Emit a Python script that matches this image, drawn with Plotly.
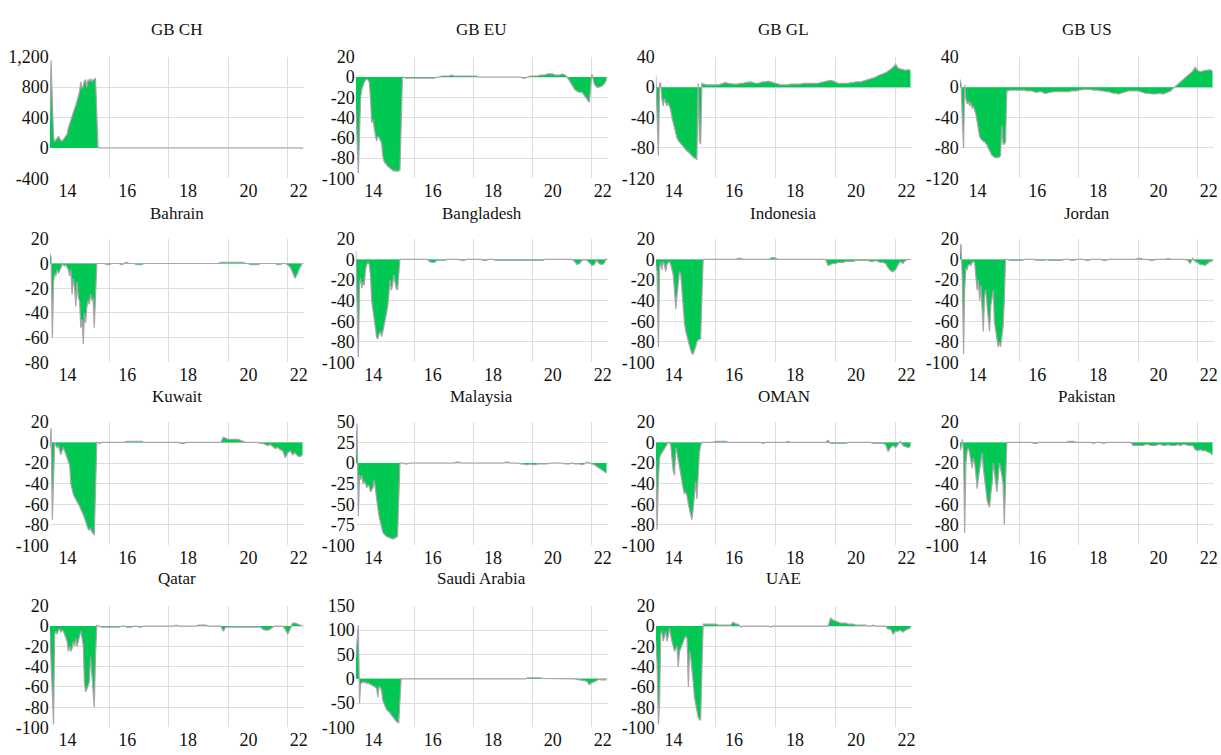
import plotly.graph_objects as go
import pandas as pd

# ---- observation dates: half-monthly to Aug 2015, monthly afterwards ----
early_dates = [pd.Timestamp(2014 + k // 24, (k % 24) // 2 + 1, 1 if k % 2 == 0 else 16) for k in range(40)]
late_dates = list(pd.date_range("2015-09-01", "2022-07-01", freq="MS"))
dates = early_dates + late_dates

# ---- series values (early half-monthly 40 values, then monthly 83 values) ----
gb_ch = [350, 1150, 600, 150, 80, 100, 120, 150, 130, 100,
         90, 110, 130, 150, 180, 260, 320, 380, 430, 470,
         520, 560, 620, 700, 740, 870, 780, 820, 880, 900,
         800, 900, 880, 910, 870, 900, 900, 920, 450, 0,
         0, 0, 0, 0,
         0, 0, 0, 0, 0, 0, 0, 0, 0, 0, 0, 0,
         0, 0, 0, 0, 0, 0, 0, 0, 0, 0, 0, 0,
         0, 0, 0, 0, 0, 0, 0, 0, 0, 0, 0, 0,
         0, 0, 0, 0, 0, 0, 0, 0, 0, 0, 0, 0,
         0, 0, 0, 0, 0, 0, 0, 0, 0, 0, 0, 0,
         0, 0, 0, 0, 0, 0, 0, 0, 0, 0, 0, 0,
         0, 0, 0, 0, 0, 0, -10]

gb_eu = [-30, -60, -95, -55, -20, -12, -8, -5, -3, -2,
         -3, -5, -20, -45, -42, -52, -58, -63, -58, -60,
         -62, -65, -78, -83, -85, -87, -88, -89, -90, -91,
         -92, -93, -92, -93, -93, -92, -92, -45, 0, 0,
         -1, -1, -1, -1,
         -1, -1, -1, -1, -1, -1, -1, -1, -1, 0, 0, 1,
         1, 1, 1, 2, 1, 1, 1, 1, 1, 1, 1, 1,
         1, 1, 0, 0, 0, 0, 0, 0, 0, 0, 0, 0,
         0, 0, 0, 0, 0, 0, 0, 0, -1, -1, 0, 1,
         1, 1, 1, 2, 2, 2, 3, 3, 3, 2, 2, 2,
         3, 2, 0, -4, -8, -12, -14, -15, -15, -18, -21, -25,
         3, -7, -10, -10, -9, -7, -3]

gb_gl = [15, -30, -90, 5, 5, -15, -25, -15, -20, -25,
         -20, -25, -30, -40, -48, -55, -62, -67, -70, -72,
         -75, -77, -78, -80, -82, -84, -85, -87, -89, -90,
         -92, -93, -94, -95, 5, -70, -75, 5, 4, 4,
         3, 3, 3, 3,
         3, 3, 4, 5, 6, 5, 4, 4, 4, 4, 5, 5,
         6, 7, 7, 6, 5, 5, 6, 7, 7, 8, 7, 6,
         4, 3, 3, 3, 3, 3, 4, 4, 4, 4, 4, 5,
         5, 5, 5, 5, 5, 5, 6, 7, 7, 8, 9, 8,
         6, 5, 5, 5, 5, 5, 6, 6, 7, 7, 7, 8,
         9, 10, 11, 12, 13, 15, 16, 17, 19, 21, 23, 26,
         30, 25, 24, 23, 22, 23, 22]

gb_us = [10, 5, -45, -80, 3, -15, -22, -18, -25, -20,
         -28, -25, -30, -35, -45, -55, -65, -68, -70, -71,
         -72, -74, -76, -80, -84, -87, -90, -91, -92, -93,
         -92, -93, -92, -90, -50, -75, -75, -72, -5, -5,
         -4, -4, -4, -4,
         -4, -4, -4, -5, -5, -5, -6, -7, -6, -6, -8, -8,
         -7, -6, -6, -6, -6, -6, -6, -6, -6, -5, -5, -5,
         -4, -3, -3, -3, -3, -3, -4, -4, -4, -5, -5, -6,
         -6, -7, -8, -8, -9, -8, -7, -6, -5, -5, -5, -5,
         -5, -6, -7, -8, -8, -9, -9, -9, -8, -8, -9, -8,
         -7, -5, -2, 1, 4, 7, 9, 12, 15, 18, 21, 26,
         22, 20, 21, 22, 22, 23, 21]

bahrain = [8, 5, -60, -15, -8, -10, -5, -8, -6, -3,
           -1, -1, -2, -1, -3, -5, -10, -5, -25, -12,
           -20, -35, -15, -28, -30, -52, -45, -65, -40, -48,
           -35, -30, -33, -25, -30, -28, -52, -25, 0, 0,
           0, 0, 0, -1,
           -1, 0, 0, 0, 0, -1, 0, 1, 0, 0, 0, -1,
           -1, -1, 0, 0, 0, 0, 0, 0, 0, 0, 0, 0,
           0, 0, 0, 0, 0, 0, 0, 0, 0, 0, 0, 0,
           0, 0, 0, 0, 0, 0, 0, 0, 0, 1, 1, 1,
           1, 1, 1, 1, 1, 1, 1, 0, 0, -1, -1, -1,
           -1, 0, 0, 0, 0, 0, 0, 0, -1, -1, 0, 0,
           -1, -3, -7, -12, -8, -3, 0]

bangladesh = [8, -35, -95, -25, -18, -28, -22, -25, -10, -5,
              -3, -5, -15, -40, -50, -62, -72, -76, -77, -72,
              -70, -75, -70, -65, -58, -52, -45, -30, -20, -30,
              -25, -15, -20, -28, -30, -15, 0, 0, 0, 0,
              0, 0, 0, 0,
              0, 0, 0, 0, 0, 0, -2, -3, -3, -1, -1, -1,
              -1, 0, 0, 0, 0, 0, 0, -1, -1, 0, 0, 0,
              0, 0, 0, 0, -1, -1, 0, 0, 0, -1, -1, -1,
              -1, -1, -1, -1, -1, -1, -1, -1, -1, -1, -1, -1,
              -1, -1, -1, -1, -1, 0, 0, 0, 0, 0, 0, 0,
              0, 0, 0, 0, 0, -2, -5, -4, -1, 0, -1, -3,
              -6, -5, -1, -4, -5, -4, 1]

indonesia = [-5, -12, -85, -8, -3, -10, -2, -5, -12, -5,
             -3, -2, -5, -10, -15, -30, -48, -35, -25, -12,
             -15, -30, -50, -62, -70, -75, -80, -85, -88, -91,
             -92, -88, -85, -80, -78, -78, -77, -38, 0, 0,
             0, 0, 0, 0,
             0, 0, 0, 0, 0, 0, 0, 0, 0, 1, 1, 0,
             0, 0, 0, 0, 0, 0, 0, 0, 0, 0, 1, 2,
             1, 0, 0, 0, 0, 0, 0, 0, 0, 0, 0, 0,
             0, 0, 0, 0, 0, 0, 0, 0, 0, -6, -5, -4,
             -4, -3, -3, -3, -2, -2, -2, -2, -1, -1, -1, -1,
             -1, -1, -2, -2, -1, -2, -3, -3, -4, -8, -11, -12,
             -10, -5, -2, -4, -1, 0, 0]

jordan = [5, 15, -20, -92, -30, -8, -10, -5, -5, -6,
          -3, -2, -3, -15, -30, -20, -40, -25, -55, -70,
          -35, -30, -45, -55, -70, -45, -35, -30, -60, -70,
          -75, -85, -80, -85, -75, -65, -40, 0, 0, 0,
          -1, -1, -1, -1,
          -1, -1, 0, 0, 0, 0, 0, -1, -1, -1, -1, 0,
          -1, -1, -1, -1, -1, -1, 0, 0, 0, -1, -1, 0,
          0, 0, 0, -1, -1, 0, 0, 0, 0, 0, -1, -1,
          0, 0, 0, 0, 0, 0, 0, 0, 0, 0, 0, 0,
          1, 1, 0, 0, 0, -1, -1, 0, 0, 0, 0, 0,
          1, 0, 0, 0, 0, 0, 0, 0, -1, -4, 1, -2,
          -3, -5, -5, -6, -4, -2, -2]

kuwait = [-5, 14, -75, -40, 0, -3, -5, -3, -8, -12,
          -8, -5, -8, -12, -15, -18, -22, -40, -47, -50,
          -53, -55, -58, -60, -62, -65, -67, -70, -73, -76,
          -80, -84, -85, -83, -87, -88, -90, -45, 0, 0,
          -1, 0, 0, 0,
          0, 0, 0, 0, 0, 0, 0, 1, 1, 1, 1, 1,
          1, 1, 0, 0, 0, 0, 0, 0, 0, 0, 0, 0,
          0, 0, 0, 0, 0, -1, -1, 0, 0, 0, 0, 0,
          0, 0, 0, 0, 0, 0, 0, 0, 0, 0, 5, 4,
          3, 3, 3, 3, 3, 2, 1, 0, 0, 0, 0, 0,
          0, -1, -1, -2, -3, -2, -4, -6, -5, -7, -8, -15,
          -10, -8, -12, -10, -13, -14, -12]

malaysia = [10, 48, -65, -15, -20, -15, -25, -22, -25, -30,
            -27, -28, -35, -32, -30, -20, -35, -45, -55, -65,
            -72, -80, -84, -86, -88, -89, -90, -90, -91, -92,
            -92, -92, -91, -90, -89, -45, 0, 0, 0, 0,
            -1, -1, 0, 0,
            0, 0, 0, 0, 0, 0, 0, 0, 0, 0, 0, 0,
            0, 0, 0, 0, 0, 1, 1, 0, 0, 0, 0, 0,
            0, 0, 0, 0, 0, 0, 0, 0, 0, 0, 0, 0,
            0, 1, 1, 0, 0, 0, 0, -1, -1, -2, -2, -1,
            -2, -2, -1, -1, -1, -1, -1, 0, 0, 0, 0, 0,
            0, -1, -1, -1, 0, -1, -1, -1, -2, -1, 1, 0,
            -1, -2, -4, -6, -8, -10, -12]

oman = [-18, -85, -35, -15, -12, -10, -7, -5, -3, -2,
        0, 0, -2, -15, -28, -32, -5, -10, -18, -25,
        -30, -38, -45, -50, -48, -52, -60, -65, -72, -75,
        -65, -50, -38, -55, -30, -10, -3, 0, 0, 0,
        0, 0, 0, 0,
        1, 1, 1, 1, 1, 0, 0, 0, 0, 0, 0, 0,
        0, 0, 0, 0, 0, 0, 0, -1, 0, 0, 0, 0,
        0, 0, 0, 0, 0, 1, 0, 0, 0, 0, 0, 0,
        0, 0, 0, 0, 0, 0, 0, 0, 0, 2, -1, -1,
        -1, -1, -1, -1, -1, 0, 0, 0, 0, 0, 0, 0,
        0, 0, 0, -1, -1, -1, -1, -1, -2, -9, -5, -3,
        -5, -2, 1, -3, -4, -5, -4]

pakistan = [-8, -5, 3, -10, -88, -20, -8, -5, -10, -20,
            -25, -15, -20, -30, -45, -35, -25, -15, -10, -25,
            -35, -50, -55, -60, -63, -50, -40, -20, -30, -40,
            -48, -35, -20, -25, -35, -40, -80, -40, 0, 0,
            0, 0, 0, 0,
            0, 0, 0, 0, 0, 0, -1, -1, 0, 0, 0, 0,
            0, 0, 0, 0, 0, 0, 0, 0, 1, 1, 1, 0,
            0, 0, 0, 0, 0, 0, -1, 0, 0, 0, -1, 0,
            0, 0, 0, 0, 0, 0, 0, 0, 0, 0, -3, -3,
            -3, -3, -3, -2, -2, -3, -3, -3, -2, -2, -3, -3,
            -2, -3, -3, -3, -2, -3, -2, -2, -3, -3, -3, -7,
            -8, -7, -8, -8, -9, -10, -12]

qatar = [-5, -30, -65, -97, -8, -5, -8, -4, -3, -6,
         -4, -5, -8, -12, -15, -25, -20, -25, -22, -15,
         -20, -12, -20, -15, -10, -5, -12, -20, -55, -65,
         -62, -58, -55, -30, -45, -67, -80, -30, 1, 0,
         0, -1, -1, -1,
         -1, -1, -1, -1, -1, 0, 0, -1, -1, -1, 0, 0,
         -1, -1, 0, 0, 0, 0, 0, 0, 0, 0, 0, 0,
         0, 0, 0, 1, 0, 0, 0, 0, 0, 0, 0, 0,
         1, 1, 1, 1, 0, 0, 0, 0, 0, 0, -5, -1,
         -1, -1, -1, -1, -1, -1, -1, -1, -1, -1, -1, -1,
         -1, -1, -3, -4, -4, -3, -1, 0, 0, 0, 0, -3,
         -8, -3, 3, 3, 2, 1, 0]

saudi = [45, 70, 110, -50, -10, -8, -6, -8, -6, -10,
         -8, -10, -12, -12, -15, -15, -18, -20, -38, -15,
         -18, -25, -45, -52, -58, -63, -66, -68, -70, -74,
         -78, -81, -84, -87, -89, -90, -45, 0, 0, 0,
         0, 0, 0, 0,
         -1, -1, -1, -1, -1, -1, 0, 0, 0, -1, -1, 0,
         -1, -1, 0, 0, 0, 0, 0, 0, 0, 0, 0, 0,
         0, 0, 0, 0, 0, 0, 0, 0, 0, 0, 0, 0,
         0, 0, 0, 0, 0, 0, 0, 0, 0, 0, 2, 2,
         3, 3, 2, 2, 1, 1, 1, 1, 0, 0, 0, 0,
         0, 0, 0, 0, 0, 0, -1, -2, -3, -3, -5, -12,
         -8, -6, -3, -1, -2, -2, -2]

uae = [-15, -35, -97, -75, -8, -5, -15, -8, -5, -15,
       -10, -2, -10, -15, -20, -25, -22, -20, -40, -25,
       -22, -18, -15, -12, -10, -12, -60, -25, -30, -40,
       -55, -70, -78, -85, -90, -92, -93, -45, 2, 2,
       2, 2, 2, 2,
       2, 1, 1, 1, 1, 1, 1, 4, 2, 2, -1, 0,
       0, 0, 0, 0, 0, 0, 0, 0, 0, 0, -1, 0,
       0, 0, 0, 0, 0, 0, 0, 0, 0, 0, 0, 0,
       0, 0, 0, 0, 0, 0, 0, 0, 0, 0, 8, 6,
       5, 4, 3, 3, 3, 2, 2, 2, 1, 1, 1, 1,
       1, 0, 0, 1, 0, 0, 0, 0, 0, -3, -3, -8,
       -5, -5, -4, -6, -4, -3, -2]

titles = ["GB CH", "GB EU", "GB GL", "GB US",
          "Bahrain", "Bangladesh", "Indonesia", "Jordan",
          "Kuwait", "Malaysia", "OMAN", "Pakistan",
          "Qatar", "Saudi Arabia", "UAE"]
series = [gb_ch, gb_eu, gb_gl, gb_us,
          bahrain, bangladesh, indonesia, jordan,
          kuwait, malaysia, oman, pakistan,
          qatar, saudi, uae]
y_ticks = [[-400, 0, 400, 800, 1200],
           [-100, -80, -60, -40, -20, 0, 20],
           [-120, -80, -40, 0, 40],
           [-120, -80, -40, 0, 40],
           [-80, -60, -40, -20, 0, 20],
           [-100, -80, -60, -40, -20, 0, 20],
           [-100, -80, -60, -40, -20, 0, 20],
           [-100, -80, -60, -40, -20, 0, 20],
           [-100, -80, -60, -40, -20, 0, 20],
           [-100, -75, -50, -25, 0, 25, 50],
           [-100, -80, -60, -40, -20, 0, 20],
           [-100, -80, -60, -40, -20, 0, 20],
           [-100, -80, -60, -40, -20, 0, 20],
           [-100, -50, 0, 50, 100, 150],
           [-100, -80, -60, -40, -20, 0, 20]]

x_label_pos = ["2014-08-05", "2016-08-10", "2018-08-25", "2020-09-05", "2022-05-15"]
x_label_txt = ["14", "16", "18", "20", "22"]
x_grid_pos = ["2016-01-01", "2018-01-01", "2020-01-01", "2022-01-01"]

W, H = 1221, 755
col_px = [(50, 305), (357, 610), (658, 915), (963, 1218)]
row_px = [(48, 173), (235, 362), (423, 550), (612, 737)]
title_y = [20, 209, 397, 584]

FONT = "Liberation Serif, Times New Roman, serif"
GREEN = "#00c853"
LINE = "#aca4a8"
GRID = "#dddddd"

fig = go.Figure()
layout = dict(width=W, height=H, margin=dict(l=0, r=0, t=0, b=0),
              paper_bgcolor="white", plot_bgcolor="white", showlegend=False,
              font=dict(family=FONT, size=18, color="#111111"))
annotations = []


def fmt(v):
    s = f"{abs(v):,}"
    return ("-" + s) if v < 0 else s


for i, (name, vals, ticks) in enumerate(zip(titles, series, y_ticks)):
    r, c = divmod(i, 4)
    n = i + 1
    xa = "x" if n == 1 else f"x{n}"
    ya = "y" if n == 1 else f"y{n}"
    fig.add_trace(go.Scatter(x=dates, y=vals, mode="lines", xaxis=xa, yaxis=ya,
                             fill="tozeroy", fillcolor=GREEN,
                             line=dict(color=LINE, width=1.2), hoverinfo="x+y"))
    x0, x1 = col_px[c]
    y0, y1 = row_px[r]
    layout[f"xaxis{'' if n == 1 else n}"] = dict(
        domain=[x0 / W, x1 / W], anchor=ya, type="date",
        range=["2014-01-01", "2022-07-20"],
        tickmode="array", tickvals=x_label_pos, ticktext=x_label_txt,
        ticks="", showgrid=False, zeroline=False, showline=False,
        tickfont=dict(family=FONT, size=18, color="#111111"),
        minor=dict(tickmode="array", tickvals=x_grid_pos, showgrid=True,
                   gridcolor=GRID, gridwidth=1.2, ticks=""),
    )
    layout[f"yaxis{'' if n == 1 else n}"] = dict(
        domain=[1 - y1 / H, 1 - y0 / H], anchor=xa,
        range=[ticks[0], ticks[-1]],
        tickmode="array", tickvals=ticks, ticktext=[fmt(t) for t in ticks],
        ticks="", showgrid=True, gridcolor=GRID, gridwidth=1.2,
        zeroline=False, showline=False,
        tickfont=dict(family=FONT, size=18, color="#111111"),
    )
    annotations.append(dict(text=name, x=(x0 + x1) / 2 / W, y=1 - title_y[r] / H,
                            xref="paper", yref="paper", xanchor="center", yanchor="middle",
                            showarrow=False, font=dict(family=FONT, size=17, color="#111111")))

layout["annotations"] = annotations
fig.update_layout(**layout)
# remove the default page margin so the 1221x755 figure fills the window exactly
fig.write_html("out.html", post_script="document.body.style.margin='0px';document.body.style.overflow='hidden';")
